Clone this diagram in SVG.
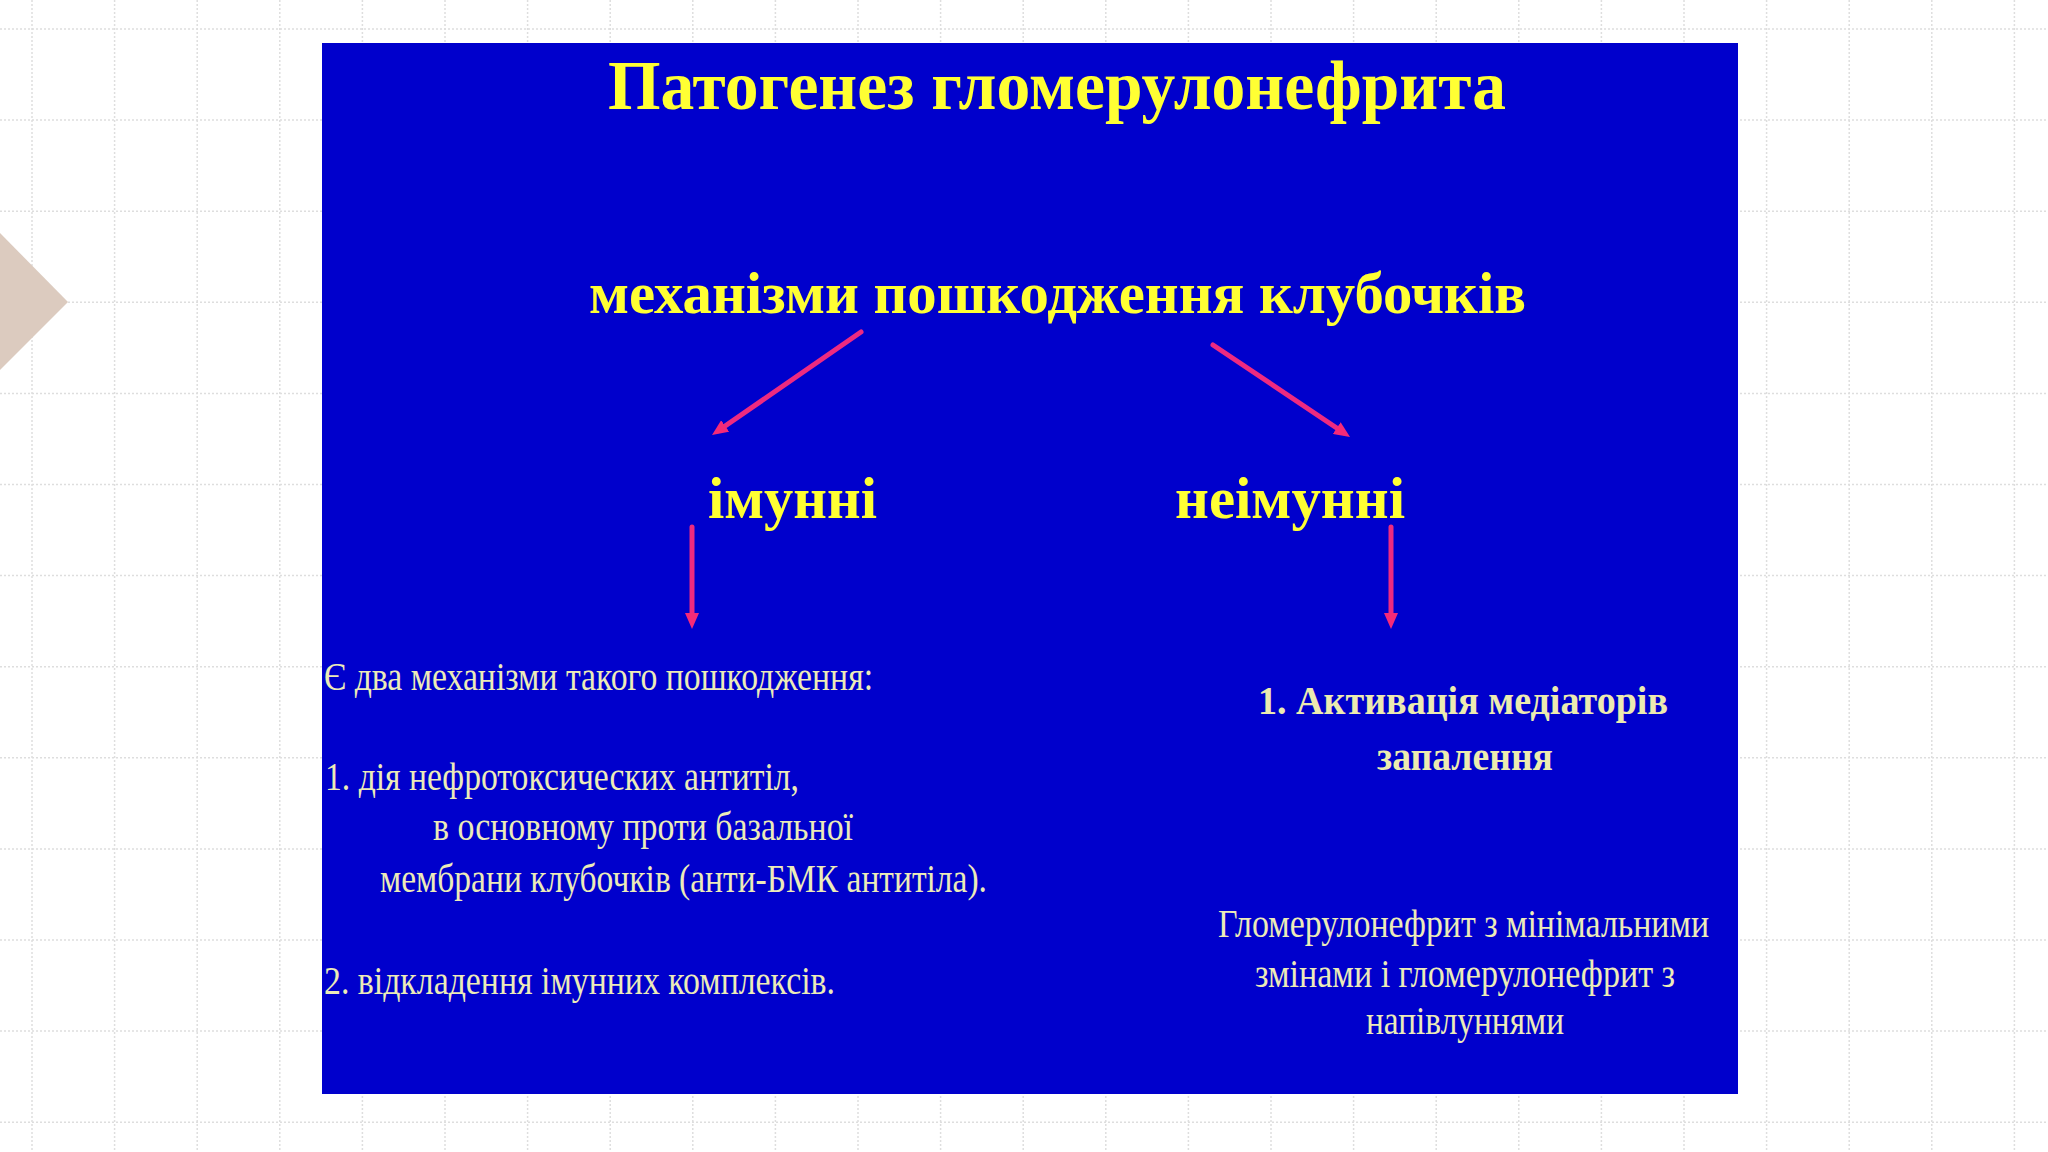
<svg xmlns="http://www.w3.org/2000/svg" width="2048" height="1152" viewBox="0 0 2048 1152">
  <style>
    .grid { fill: none; stroke: #dedede; stroke-width: 1.5; stroke-dasharray: 2 2; }
    .head { font-family: "Liberation Serif", "Times New Roman", serif; font-weight: bold; fill: #ffff33; }
    .body { font-family: "Liberation Serif", "Times New Roman", serif; fill: #ecebb8; font-size: 40px; }
    .bodyb { font-family: "Liberation Serif", "Times New Roman", serif; font-weight: bold; fill: #ecebb0; font-size: 40px; }
    .arrow { fill: none; stroke: #ee2a80; stroke-width: 5; stroke-linecap: round; marker-end: url(#ah); }
  </style>
  <defs>
    <marker id="ah" viewBox="0 0 16 14" refX="8" refY="7" markerWidth="16" markerHeight="14" markerUnits="userSpaceOnUse" orient="auto">
      <path d="M0,0 L16,7 L0,14 Z" fill="#f52a78"/>
    </marker>
  </defs>

  <rect x="0" y="0" width="2048" height="1152" fill="#ffffff"/>
  <g id="grid">
    <path class="grid" d="M32,0V1152 M114.6,0V1152 M197.2,0V1152 M279.8,0V1152 M362.4,0V1152 M445,0V1152 M527.6,0V1152 M610.2,0V1152 M692.8,0V1152 M775.4,0V1152 M858,0V1152 M940.6,0V1152 M1023.2,0V1152 M1105.8,0V1152 M1188.4,0V1152 M1271,0V1152 M1353.6,0V1152 M1436.2,0V1152 M1518.8,0V1152 M1601.4,0V1152 M1684,0V1152 M1766.6,0V1152 M1849.2,0V1152 M1931.8,0V1152 M2014.4,0V1152 M0,29H2048 M0,120.1H2048 M0,211.2H2048 M0,302.3H2048 M0,393.4H2048 M0,484.5H2048 M0,575.6H2048 M0,666.7H2048 M0,757.8H2048 M0,848.9H2048 M0,940H2048 M0,1031.1H2048 M0,1122.2H2048"/>
  </g>
  <polygon id="side-marker" points="0,233 68,302 0,370" fill="#dccbbf"/>

  <rect id="slide" x="322" y="43" width="1416" height="1051" fill="#0000cc"/>

  <g id="title">
    <text class="head" x="608" y="109" font-size="70" textLength="898" lengthAdjust="spacingAndGlyphs">Патогенез гломерулонефрита</text>
  </g>
  <g id="root">
    <text class="head" x="589" y="313" font-size="60" textLength="937" lengthAdjust="spacingAndGlyphs">механізми пошкодження клубочків</text>
  </g>
  <g id="immune">
    <text class="head" x="708" y="518" font-size="60" textLength="169" lengthAdjust="spacingAndGlyphs">імунні</text>
  </g>
  <g id="nonimmune">
    <text class="head" x="1175" y="518" font-size="60" textLength="230" lengthAdjust="spacingAndGlyphs">неімунні</text>
  </g>

  <g id="immune-details">
    <text class="body" x="324" y="690" textLength="549" lengthAdjust="spacingAndGlyphs">Є два механізми такого пошкодження:</text>
    <text class="body" x="325" y="790" textLength="474" lengthAdjust="spacingAndGlyphs">1. дія нефротоксических антитіл,</text>
    <text class="body" x="433" y="840" textLength="420" lengthAdjust="spacingAndGlyphs">в основному проти базальної</text>
    <text class="body" x="380" y="892" textLength="607" lengthAdjust="spacingAndGlyphs">мембрани клубочків (анти-БМК антитіла).</text>
    <text class="body" x="324" y="994" textLength="511" lengthAdjust="spacingAndGlyphs">2. відкладення імунних комплексів.</text>
  </g>

  <g id="nonimmune-details">
    <text class="bodyb" x="1258" y="714" textLength="410" lengthAdjust="spacingAndGlyphs">1. Активація медіаторів</text>
    <text class="bodyb" x="1377" y="770" textLength="176" lengthAdjust="spacingAndGlyphs">запалення</text>
    <text class="body" x="1218" y="937" textLength="491" lengthAdjust="spacingAndGlyphs">Гломерулонефрит з мінімальними</text>
    <text class="body" x="1255" y="987" textLength="420" lengthAdjust="spacingAndGlyphs">змінами і гломерулонефрит з</text>
    <text class="body" x="1366" y="1034" textLength="198" lengthAdjust="spacingAndGlyphs">напівлуннями</text>
  </g>

  <g id="connectors">
    <path class="arrow" d="M861,332 L718.6,430.5"/>
    <path class="arrow" d="M1213,345 L1343.4,432.5"/>
    <path class="arrow" d="M692,527 L692,621"/>
    <path class="arrow" d="M1391,527 L1391,621"/>
  </g>
</svg>
